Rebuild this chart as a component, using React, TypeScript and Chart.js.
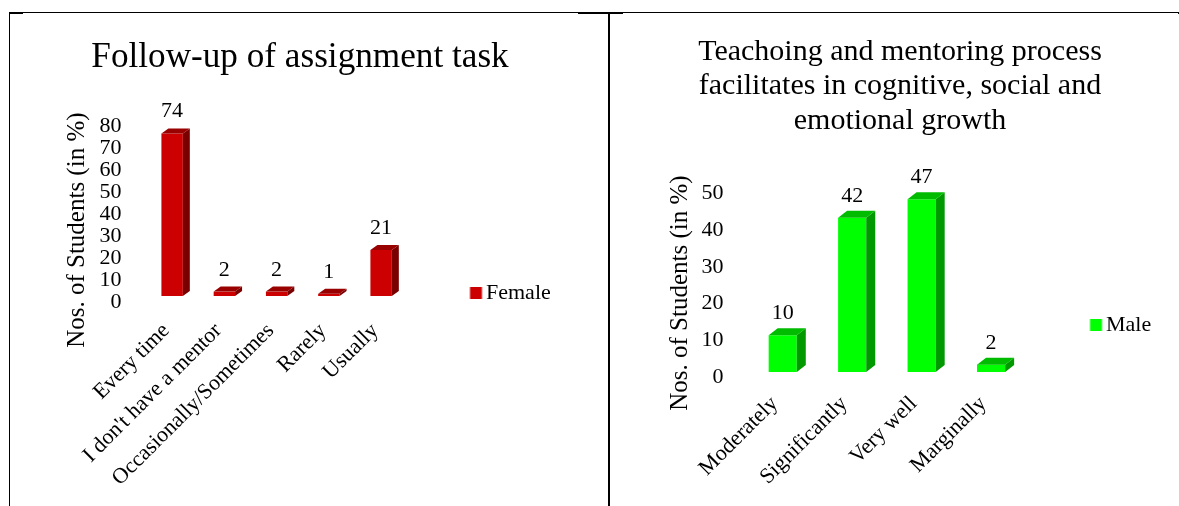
import React, { useEffect, useRef } from "react";
import { Chart, registerables } from "chart.js";

Chart.register(...registerables);

const femaleCategories = ["Every time", "I don't have a mentor", "Occasionally/Sometimes", "Rarely", "Usually"];
const femaleValues = [74, 2, 2, 1, 21];
const femaleTicks = [0, 10, 20, 30, 40, 50, 60, 70, 80];

const maleCategories = ["Moderately", "Significantly", "Very well", "Marginally"];
const maleValues = [10, 42, 47, 2];
const maleTicks = [0, 10, 20, 30, 40, 50];

const FONT = "'Liberation Serif', 'Times New Roman', serif";

type Panel = {
  left: number; top: number; width: number; height: number;
  title: string | string[]; titleSize: number; titleLH: number; titlePad: { top: number; bottom: number }; titleSpan: number;
  categories: string[]; values: number[]; ticks: number[]; max: number; seriesName: string;
  front: string; side: string; topFace: string;
  depthX: number; depthY: number; lift: number; barPct: number; labelGap: number;
  axisW: number; axisH: number; padRight: number; tickSize: number; titleAxisPad: number; axisTitleShift: number;
  labelOffset: number; labelPad: number;
  legendLeft: number; legendMidY: number;
};

function swatch(color: string) {
  const c = document.createElement("canvas");
  c.width = 24; c.height = 12;
  const g = c.getContext("2d")!;
  g.fillStyle = color; g.fillRect(7.5, 0, 12, 12);
  return c;
}

function make3DPlugin(p: Panel) {
  return {
    id: "bars3d",
    afterLayout(chart: any) {
      const tb = chart.titleBlock;
      if (tb) { tb.left = 0; tb.right = p.titleSpan; }
      const l = chart.legend;
      if (!l) return;
      const w = l.width, h = l.height;
      l.left = p.legendLeft; l.right = p.legendLeft + w;
      l.top = p.legendMidY - h / 2; l.bottom = l.top + h;
      l.adjustHitBoxes();
    },
    beforeDatasetsDraw(chart: any) {
      chart.ctx.save();
      chart.ctx.translate(0, -p.lift);
    },
    afterDatasetsDraw(chart: any) {
      const ctx = chart.ctx;
      const els = chart.getDatasetMeta(0).data;
      els.forEach((el: any, i: number) => {
        const hw = el.width / 2, l = el.x - hw, r = el.x + hw, t = el.y, b = el.base;
        const dx = p.depthX, dy = p.depthY;
        ctx.fillStyle = p.side;
        ctx.beginPath();
        ctx.moveTo(r, t); ctx.lineTo(r + dx, t - dy); ctx.lineTo(r + dx, b - dy); ctx.lineTo(r, b);
        ctx.closePath(); ctx.fill();
        ctx.fillStyle = p.topFace;
        ctx.beginPath();
        ctx.moveTo(l, t); ctx.lineTo(l + dx, t - dy); ctx.lineTo(r + dx, t - dy); ctx.lineTo(r, t);
        ctx.closePath(); ctx.fill();
        ctx.fillStyle = "#000";
        ctx.font = `${p.tickSize}px ${FONT}`;
        ctx.textAlign = "center";
        ctx.textBaseline = "alphabetic";
        ctx.fillText(String(p.values[i]), el.x, t - p.labelGap);
      });
      ctx.restore();
    },
  };
}

function ChartPanel({ p }: { p: Panel }) {
  const ref = useRef<HTMLCanvasElement>(null);
  useEffect(() => {
    const chart = new Chart(ref.current!, {
      type: "bar",
      data: {
        labels: p.categories,
        datasets: [{
          label: p.seriesName, data: p.values, backgroundColor: p.front, borderWidth: 0,
          categoryPercentage: 1, barPercentage: p.barPct, clip: false,
        } as any],
      },
      options: {
        responsive: false,
        animation: false,
        layout: { padding: { left: 0, right: p.padRight, top: 0, bottom: 0 } },
        plugins: {
          tooltip: { enabled: false },
          title: {
            display: true, text: p.title, color: "#000",
            font: { family: FONT, size: p.titleSize, weight: "normal", lineHeight: p.titleLH },
            padding: p.titlePad,
          },
          legend: {
            display: true, position: "right",
            labels: {
              color: "#000", usePointStyle: true, pointStyle: swatch(p.front), pointStyleWidth: 1,
              boxHeight: 12, padding: 12, font: { family: FONT, size: 22 },
            },
          },
        },
        scales: {
          x: {
            grid: { display: false, drawTicks: false }, border: { display: false },
            afterFit(s: any) { s.height = p.axisH; },
            ticks: {
              color: "#000", font: { family: FONT, size: 22 },
              minRotation: 45, maxRotation: 45, autoSkip: false, padding: p.labelPad, labelOffset: p.labelOffset,
            },
          },
          y: {
            min: 0, max: p.max,
            grid: { display: false, drawTicks: false }, border: { display: false },
            afterFit(s: any) {
              s.width = p.axisW;
              if (!s.__shifted) {
                s.__shifted = true;
                const orig = s.drawTitle;
                s.drawTitle = function () {
                  s.ctx.save();
                  s.ctx.translate(0, p.axisTitleShift);
                  orig.call(s);
                  s.ctx.restore();
                };
              }
            },
            afterBuildTicks(s: any) { s.ticks = p.ticks.map((value) => ({ value })); },
            ticks: { color: "#000", font: { family: FONT, size: p.tickSize }, padding: 24.5, autoSkip: false },
            title: {
              display: true, text: "Nos. of Students (in %)", color: "#000",
              font: { family: FONT, size: 25 }, padding: { top: p.titleAxisPad, bottom: 0 },
            },
          },
        },
      },
      plugins: [make3DPlugin(p)],
    } as any);
    return () => chart.destroy();
  }, []);
  return (
    <canvas
      ref={ref}
      width={p.width}
      height={p.height}
      style={{ position: "absolute", left: p.left, top: p.top, width: p.width, height: p.height }}
    />
  );
}

const femalePanel: Panel = {
  left: 10, top: 14, width: 598, height: 492,
  title: "Follow-up of assignment task", titleSize: 35.2, titleLH: 1.06, titlePad: { top: 25, bottom: 50 }, titleSpan: 580,
  categories: femaleCategories, values: femaleValues, ticks: femaleTicks, max: 80, seriesName: "Female",
  front: "#CC0000", side: "#7A0000", topFace: "#990000",
  depthX: 7, depthY: 5, lift: 6, barPct: 0.41, labelGap: 16,
  axisW: 136, axisH: 204, padRight: 102, tickSize: 22, titleAxisPad: 52, axisTitleShift: 16,
  labelOffset: -6, labelPad: 16,
  legendLeft: 452, legendMidY: 279,
};

const malePanel: Panel = {
  left: 621, top: 14, width: 558, height: 492,
  title: ["Teachoing and mentoring process", "facilitates in cognitive, social and", "emotional growth"],
  titleSize: 30, titleLH: 1.15, titlePad: { top: 20.75, bottom: 55 }, titleSpan: 558,
  categories: maleCategories, values: maleValues, ticks: maleTicks, max: 50, seriesName: "Male",
  front: "#00FF00", side: "#009900", topFace: "#00BB00",
  depthX: 9, depthY: 7, lift: 5, barPct: 0.405, labelGap: 16,
  axisW: 127, axisH: 129, padRight: 74, tickSize: 22, titleAxisPad: 44, axisTitleShift: 8,
  labelOffset: -8, labelPad: 14,
  legendLeft: 461, legendMidY: 311,
};

const line = (left: number, top: number, width: number, height: number) => (
  <div style={{ position: "absolute", left, top, width, height, background: "#000" }} />
);

export default function App() {
  useEffect(() => { document.body.style.margin = "0"; }, []);
  return (
    <div style={{ position: "relative", width: 1179, height: 506, overflow: "hidden", background: "#fff" }}>
      <ChartPanel p={femalePanel} />
      <ChartPanel p={malePanel} />
      {line(9, 12, 1170, 1)}
      {line(9, 12, 14, 2)}
      {line(578, 12, 45, 2)}
      {line(1178, 12, 1, 2)}
      {line(9, 12, 1, 494)}
      {line(608, 12, 2, 494)}
    </div>
  );
}
